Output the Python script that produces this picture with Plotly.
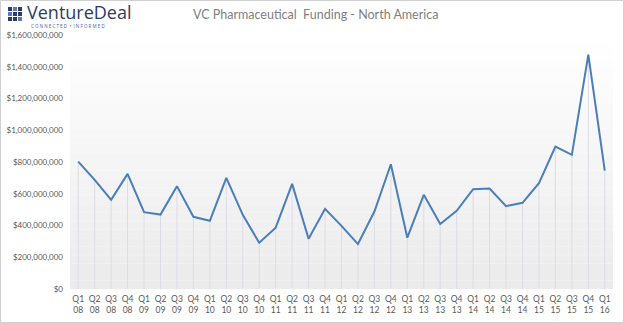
import plotly.graph_objects as go

quarters = ["Q1", "Q2", "Q3", "Q4"]
years = ["08", "09", "10", "11", "12", "13", "14", "15", "16"]
categories = [f"{q}<br>{y}" for y in years for q in quarters][:33]

funding = [
    802e6, 688e6, 562e6, 725e6,
    484e6, 469e6, 648e6, 455e6,
    430e6, 700e6, 467e6, 291e6,
    386e6, 662e6, 316e6, 505e6,
    398e6, 283e6, 488e6, 786e6,
    323e6, 593e6, 409e6, 492e6,
    629e6, 633e6, 522e6, 543e6,
    667e6, 897e6, 845e6, 1476e6,
    746e6,
]

W, H = 624, 323
ML, MR, MT, MB = 70, 11, 35, 34
PW, PH = W - ML - MR, H - MT - MB

def px(x):
    return (x - ML) / PW

def py(y):
    return 1 - (y - MT) / PH

fig = go.Figure()
fig.add_trace(go.Scatter(
    x=categories, y=funding, mode="lines",
    line=dict(color="#4a7ebb", width=2),
    error_y=dict(type="data", symmetric=False, array=[0] * len(funding),
                 arrayminus=funding, width=0, thickness=1, color="#dcdce6"),
    hoverinfo="x+y",
))

shapes = []
# gradient plot background
n = 30
for i in range(n):
    t = i / (n - 1)
    c = round(255 - 20 * t)
    shapes.append(dict(type="rect", xref="paper", yref="paper", x0=0, x1=1,
                       y0=1 - (i + 1) / n, y1=1 - i / n,
                       fillcolor=f"rgb({c},{c},{c})", line=dict(width=0), layer="below"))
# outer border
shapes.append(dict(type="rect", xref="paper", yref="paper",
                   x0=px(0.5), x1=px(W - 0.5), y0=py(H - 0.5), y1=py(0.5),
                   line=dict(color="#d0d0d0", width=1), fillcolor="rgba(0,0,0,0)"))
# logo icon squares
icon_cols = [["#2d3b66", "#5a7ab8", "#2d3b66"],
             ["#5a7ab8", "#2d3b66", "#2d3b66"],
             ["#2d3b66", "#2d3b66", "#5a7ab8"]]
for r in range(3):
    for c in range(3):
        x0 = 8 + c * 5
        y0 = 7 + r * 5
        shapes.append(dict(type="rect", xref="paper", yref="paper",
                           x0=px(x0), x1=px(x0 + 4), y0=py(y0 + 4), y1=py(y0),
                           fillcolor=icon_cols[r][c], line=dict(width=0)))

annotations = [
    dict(text="VentureDeal", x=px(25), y=py(12), xref="paper", yref="paper",
         xanchor="left", yanchor="middle", showarrow=False, height=18,
         font=dict(family="Open Sans", size=18, color="#2d3b66")),
    dict(text="C O N N E C T E D  •  I N F O R M E D", x=px(29), y=py(25.5), xref="paper", yref="paper",
         xanchor="left", yanchor="middle", showarrow=False,
         font=dict(family="Open Sans", size=4.5, color="#3b5fa8")),
    dict(text="VC Pharmaceutical  Funding - North America", x=px(191), y=py(15),
         xref="paper", yref="paper", xanchor="left", yanchor="middle", showarrow=False,
         font=dict(family="Lato", size=12.5, color="#808080")),
]

fig.update_layout(
    width=W, height=H,
    margin=dict(l=ML, r=MR, t=MT, b=MB, autoexpand=False),
    paper_bgcolor="white", plot_bgcolor="rgba(0,0,0,0)",
    showlegend=False,
    shapes=shapes, annotations=annotations,
    font=dict(family="Lato", color="#595959", size=8),
    xaxis=dict(type="category", range=[-0.5, 32.5], showgrid=False, zeroline=False,
               showline=False, ticks="", tickangle=0, automargin=False,
               ticklabelstandoff=3,
               tickfont=dict(size=8.5, color="#595959")),
    yaxis=dict(range=[0, 1.6e9], tickvals=[i * 2e8 for i in range(9)],
               tickformat="$,.0f", showgrid=False, zeroline=False, showline=False,
               ticks="", ticklabelstandoff=6, automargin=False,
               tickfont=dict(size=8, color="#595959")),
)

fig.write_html("out.html")
